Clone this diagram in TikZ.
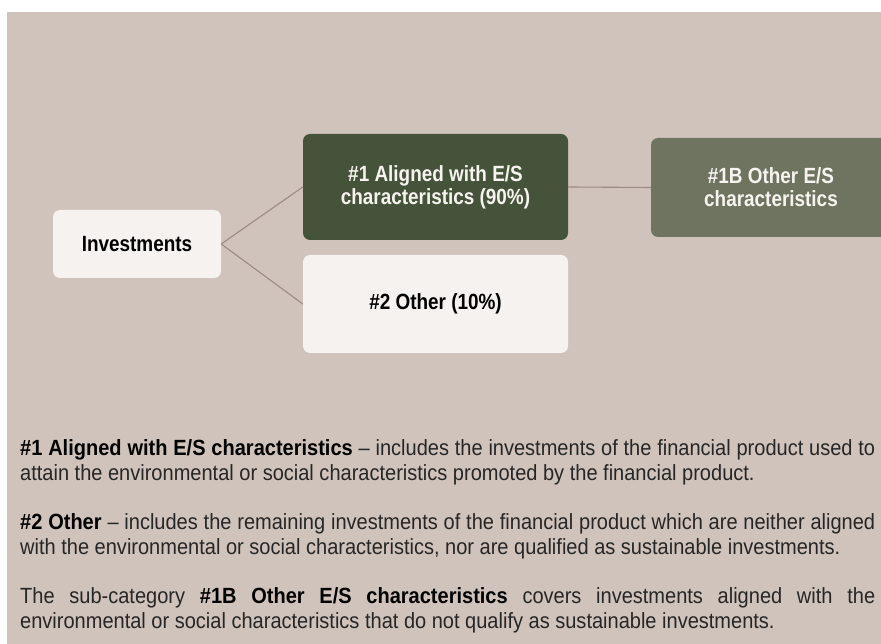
\documentclass[tikz,border=0pt]{standalone}
\usepackage{fontspec}
\setmainfont{Liberation Sans}
\newfontfamily\boxfont{Liberation Sans}[FakeStretch=0.86]
\newfontfamily\parafont{Liberation Sans}[FakeStretch=0.91]
\definecolor{bgc}{HTML}{D0C3BB}
\definecolor{lightbox}{HTML}{F5F2EF}
\definecolor{darkgreen}{HTML}{45533A}
\definecolor{midgreen}{HTML}{6E745F}
\definecolor{linec}{HTML}{9C8B82}
\definecolor{txt}{HTML}{262626}
\definecolor{boxwhite}{HTML}{F7F4F0}
\tikzset{
  box/.style={rectangle, rounded corners=7pt, inner sep=0pt, align=center,
    font=\boxfont\bfseries\fontsize{22}{23}\selectfont},
  lightb/.style={box, fill=lightbox, text=black},
  darkb/.style={box, fill=darkgreen, text=boxwhite},
  midb/.style={box, fill=midgreen, text=boxwhite},
  conn/.style={draw=linec, line width=1.1pt},
  para/.style={anchor=base west, inner sep=0pt, text=txt, font=\parafont\fontsize{22}{25}\selectfont}
}
\begin{document}
\begin{tikzpicture}[x=1pt,y=-1pt]
\useasboundingbox (0,0) rectangle (881,644);
\fill[bgc] (7,12) rectangle (881,644);
\node[lightb, minimum width=168pt, minimum height=68pt] (inv) at (137,244) {Investments};
\node[darkb, minimum width=265pt, minimum height=106pt] (a1) at (435.5,187) {\#1 Aligned with E/S\\characteristics (90\%)};
\node[lightb, minimum width=265pt, minimum height=98pt] (o2) at (435.5,304) {\#2 Other (10\%)};
\node[midb, minimum width=240pt, minimum height=99pt] (b1) at (771,187.5) {\#1B Other E/S\\characteristics};
\draw[conn] (inv.east) -- (a1.west);
\draw[conn] (inv.east) -- (o2.west);
\draw[conn] (a1.east) -- (b1.west);
\node[para] (l1) at (20,455) {\makebox[855pt][s]{\textcolor{black}{\bfseries \#1 Aligned with E/S characteristics} – includes the investments of the financial product used to}};
\node[para] (l2) at (20,480) {attain the environmental or social characteristics promoted by the financial product.};
\node[para] (l3) at (20,529) {\makebox[855pt][s]{\textcolor{black}{\bfseries \#2 Other} – includes the remaining investments of the financial product which are neither aligned}};
\node[para] (l4) at (20,554) {with the environmental or social characteristics, nor are qualified as sustainable investments.};
\node[para] (l5) at (20,603) {\makebox[855pt][s]{The sub-category \textcolor{black}{\bfseries \#1B Other E/S characteristics} covers investments aligned with the}};
\node[para] (l6) at (20,628) {environmental or social characteristics that do not qualify as sustainable investments.};
\end{tikzpicture}
\end{document}
